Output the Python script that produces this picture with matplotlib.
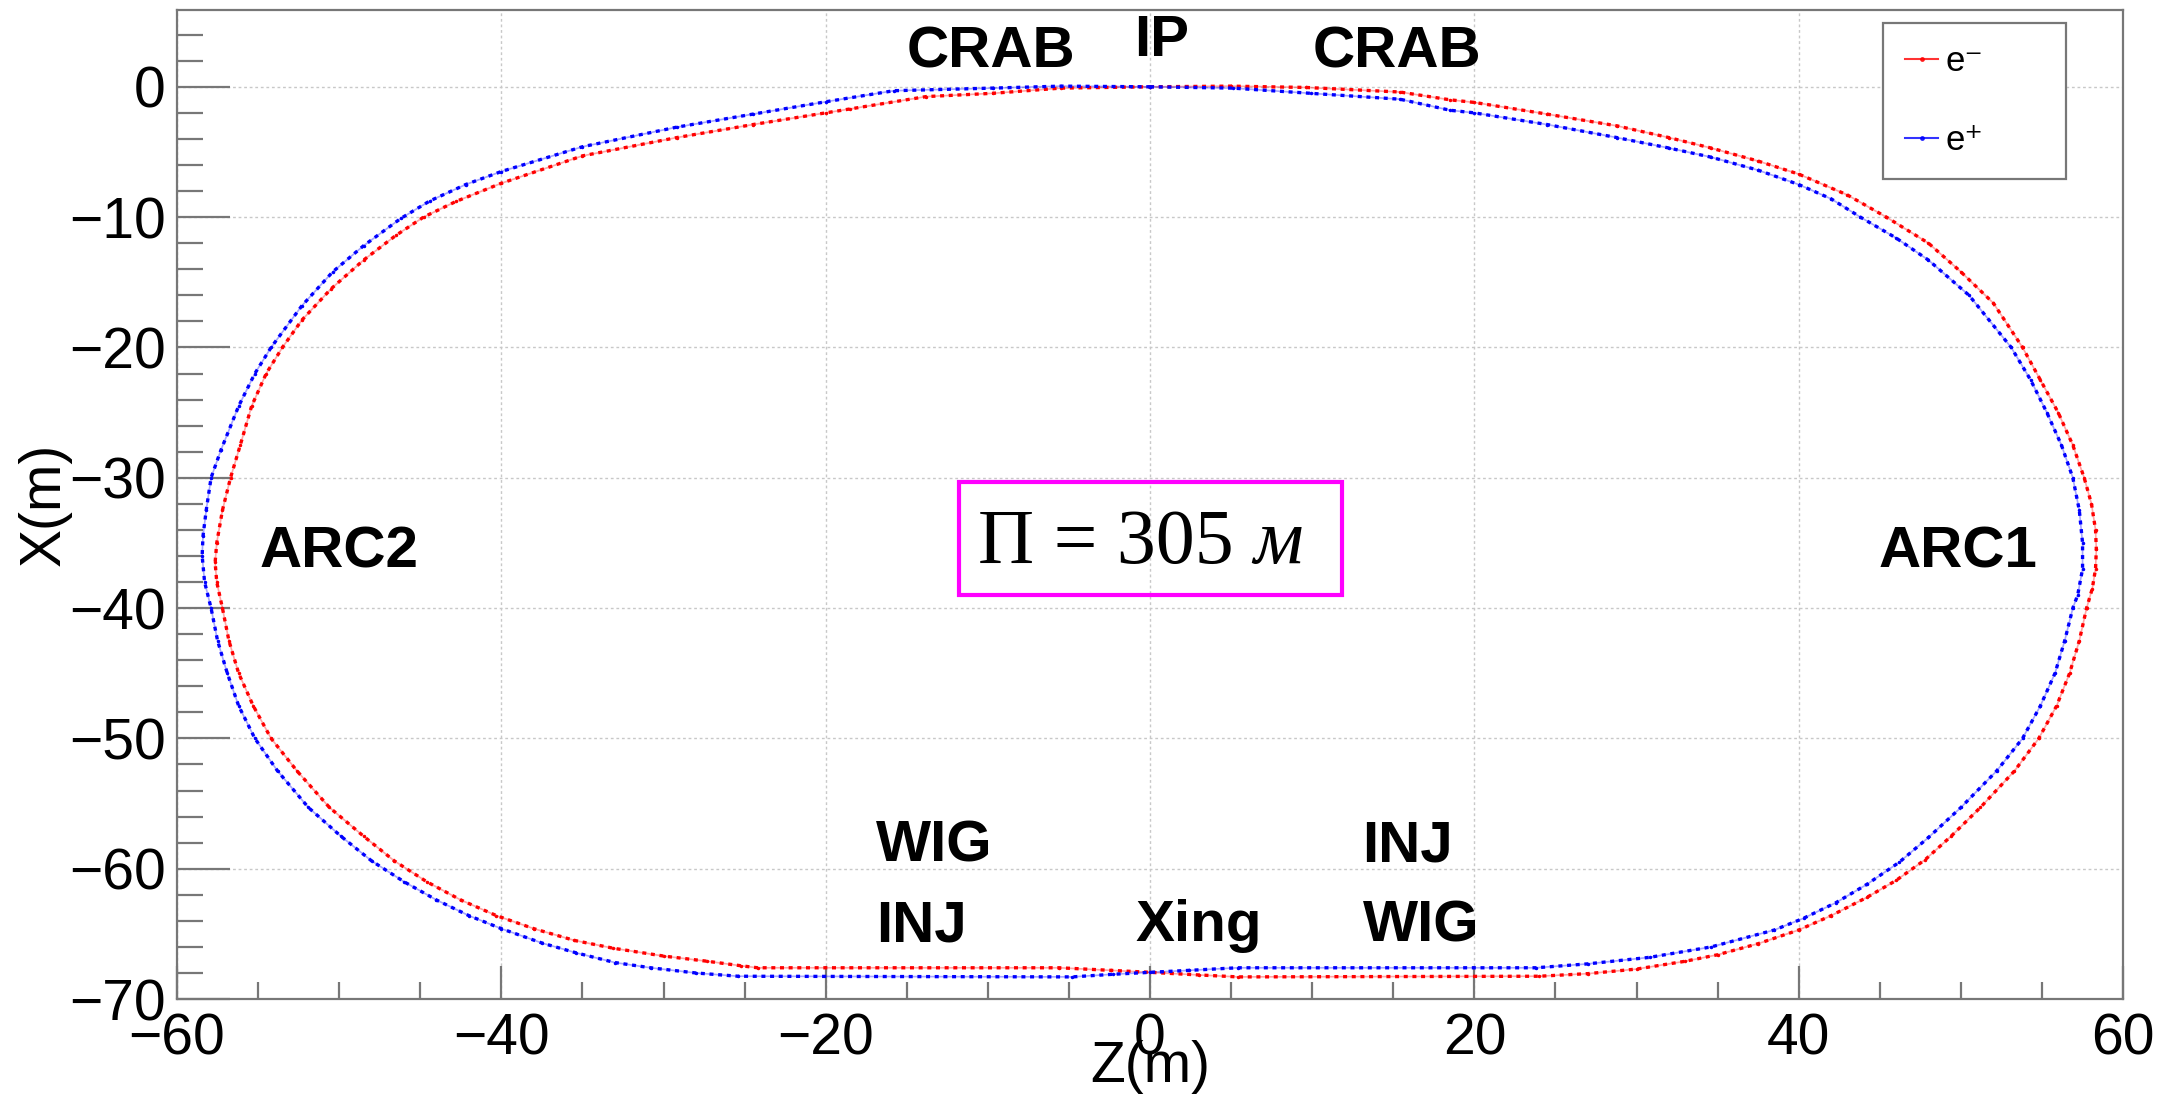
import matplotlib
matplotlib.use("Agg")
import matplotlib.pyplot as plt
from matplotlib.lines import Line2D
from matplotlib.patches import Rectangle
from matplotlib.ticker import MultipleLocator

plt.rcParams['font.family'] = ['Liberation Sans', 'DejaVu Sans']

# orbit of e- (red), IP -> ARC1 -> bottom -> ARC2 -> IP
z_em = [0, 5, 9.6, 15.4, 18.5, 20, 24.5, 28.8, 32, 34.6, 37.5, 40, 43, 45.4, 48,
        50, 52, 53.8, 54.9, 56.0, 56.9, 57.6, 58.05, 58.3, 58.35, 58.3, 58.1,
        57.75, 57.3, 56.7, 55.9, 54.8, 53.3, 51.2, 49.4, 47.8, 46, 44.2, 42, 40,
        37.5, 35, 33, 30, 27, 24, 5.4, 3, 0, -2.4, -5.6, -24.2, -25.2, -27.3,
        -30, -33.1, -35.5, -38, -40.3, -42.5, -44.6, -46.6, -48.5, -50.6, -52.6,
        -54.2, -55.3, -56.2, -56.8, -57.2, -57.55, -57.65, -57.55, -57.2, -56.7,
        -56.1, -55.4, -54.5, -53.5, -52.3, -50.5, -48.5, -46.5, -44.8, -42.8,
        -40, -35, -29.2, -24.5, -20, -18.5, -13.8, -9.7, -5.5, 0]
x_em = [0, 0.05, -0.05, -0.4, -1.0, -1.2, -2.1, -3.0, -3.9, -4.7, -5.7, -6.7,
        -8.3, -10, -12.0, -14.2, -16.6, -20, -22.5, -25, -27.5, -30, -32, -34,
        -35.5, -37, -38.5, -40, -42.5, -45, -47.5, -50, -52.5, -55.3, -57.5,
        -59.3, -60.9, -62.2, -63.6, -64.7, -65.75, -66.6, -67.1, -67.7, -68.05,
        -68.25, -68.3, -68.15, -67.95, -67.8, -67.6, -67.6, -67.45, -67.1,
        -66.7, -66.1, -65.5, -64.6, -63.6, -62.4, -61.0, -59.4, -57.5, -55.3,
        -52.5, -50, -47.5, -45, -42.5, -40, -38, -36.5, -35, -32.5, -30, -27.5,
        -24.5, -22, -20, -17.9, -15.5, -13.3, -11.4, -10.0, -8.8, -7.4, -5.3,
        -3.9, -2.9, -2.0, -1.7, -0.75, -0.5, -0.1, 0]

# orbit of e+ (blue)
z_ep = [0, 5.1, 9.9, 15.4, 18.5, 20, 24.5, 28.8, 32, 34.6, 37.5, 40, 42, 43.8,
        46, 48, 50.5, 53.1, 54.3, 55.3, 56.2, 56.9, 57.3, 57.5, 57.5, 57.2,
        56.9, 56.4, 55.8, 54.9, 53.8, 52.2, 50, 48, 46.2, 44.2, 42.3, 40.3,
        38.5, 34.6, 30.8, 27, 23.8, 5.4, 2.4, 0, -2.3, -4.8, -25.4, -28, -30.8,
        -33, -35.4, -37.5, -40, -42, -44, -46, -48, -49.9, -51.9, -53.8, -55.2,
        -56.2, -56.9, -57.5, -57.9, -58.3, -58.45, -58.4, -58.2, -57.9, -57.3,
        -56.2, -55.2, -54.2, -52.3, -50.4, -48.5, -46.2, -44.4, -42.2, -40, -35,
        -29.2, -24.5, -20, -15.8, -9.7, -5.5, 0]
x_ep = [0, -0.1, -0.5, -0.95, -1.8, -2.0, -2.9, -3.9, -4.7, -5.4, -6.4, -7.5,
        -8.6, -10, -11.6, -13.3, -16, -20, -22.5, -25, -27.5, -30, -32.5, -35,
        -37, -39, -40, -42.5, -45, -47.5, -50, -52.5, -55.3, -57.6, -59.5,
        -61.2, -62.6, -63.8, -64.7, -66, -66.8, -67.3, -67.6, -67.6, -67.8,
        -67.95, -68.1, -68.3, -68.25, -68, -67.6, -67.2, -66.45, -65.7, -64.6,
        -63.6, -62.4, -61.0, -59.4, -57.5, -55.3, -52.5, -50, -47.5, -45, -42.5,
        -40, -38, -36, -34.5, -32.5, -30, -27.9, -24.5, -22, -20, -16.8, -14.2,
        -12.2, -10.1, -8.75, -7.5, -6.5, -4.6, -3.1, -2.1, -1.15, -0.3, -0.1,
        0.05, 0]

labels = ["CRAB", "IP", "CRAB", "ARC2", "ARC1", "WIG", "INJ", "Xing", "INJ", "WIG"]
label_z = [-9.8, 0.7, 15.2, -50.0, 49.8, -16.9, -16.9, -0.9, 13.1, 13.1]
label_x = [2.6, 3.5, 2.6, -35.7, -35.7, -58.3, -64.4, -64.4, -58.3, -64.4]
label_ha = ["center", "center", "center", "center", "center",
            "left", "left", "left", "left", "left"]

fig = plt.figure(figsize=(21.8, 11.01), dpi=100)
ax = fig.add_axes([0.0812, 0.0926, 0.8927, 0.8984])

for z, x, col in [(z_em, x_em, 'red'), (z_ep, x_ep, 'blue')]:
    ax.plot(z, x, color=col, lw=1.2, alpha=0.35, zorder=3)
    ax.plot(z, x, color=col, lw=2.4, ls=(0, (1.2, 1.4)), zorder=4)
    ax.plot(z, x, color=col, lw=0, marker='.', ms=3, zorder=4)

ax.set_xlim(-60, 60)
ax.set_ylim(-70, 5.9)
ax.xaxis.set_major_locator(MultipleLocator(20))
ax.xaxis.set_minor_locator(MultipleLocator(5))
ax.yaxis.set_major_locator(MultipleLocator(10))
ax.yaxis.set_minor_locator(MultipleLocator(2))

ax.grid(True, which='major', color='#c8c8c8', ls=(0, (2, 2)), lw=1.0)
ax.set_axisbelow(True)

for s in ax.spines.values():
    s.set_color('#777777')
    s.set_linewidth(1.6)

ax.tick_params(axis='both', which='both', direction='in', colors='#777777',
               labelcolor='black', labelsize=41, width=1.6)
ax.tick_params(axis='y', which='major', length=38, pad=8)
ax.tick_params(axis='y', which='minor', length=19)
ax.tick_params(axis='x', which='major', length=24, pad=10)
ax.tick_params(axis='x', which='minor', length=12)

ax.set_xlabel("Z(m)", fontsize=41)
ax.set_ylabel("X(m)", fontsize=41)
ax.xaxis.set_label_coords(0.5, -0.041)
ax.yaxis.set_label_coords(-0.054, 0.5)

for t, z, x, ha in zip(labels, label_z, label_x, label_ha):
    ax.text(z, x, t, fontsize=42, fontweight='bold', ha=ha, va='center', zorder=5)

# perimeter box
ax.add_patch(Rectangle((0.4019, 0.4085), 0.1968, 0.1143, transform=ax.transAxes,
                       fill=False, ec='#ff00ff', lw=3, zorder=6))
t1 = ax.text(0.4115, 0.4409, "Π = 305 ", transform=ax.transAxes, fontsize=56,
             family='Liberation Serif', ha='left', va='baseline', zorder=6)
ax.annotate("м", xy=(1, 0), xycoords=t1, fontsize=56, family='Liberation Serif',
            style='italic', ha='left', va='bottom', zorder=6)

handles = [Line2D([], [], color='red', lw=1.5, marker='.', ms=5, alpha=0.8),
           Line2D([], [], color='blue', lw=1.5, marker='.', ms=5, alpha=0.8)]
leg = ax.legend(handles, ["e⁻", "e⁺"], loc='upper left',
                bbox_to_anchor=(0.8767, 0.8332, 0.094, 0.1537), mode='expand',
                borderaxespad=0, fontsize=25, borderpad=0.64, labelspacing=1.32,
                handlelength=0.95, handletextpad=0.2, fancybox=False,
                framealpha=1, edgecolor='#777777')
leg.get_frame().set_linewidth(1.6)

fig.savefig("out.png", dpi=100)
